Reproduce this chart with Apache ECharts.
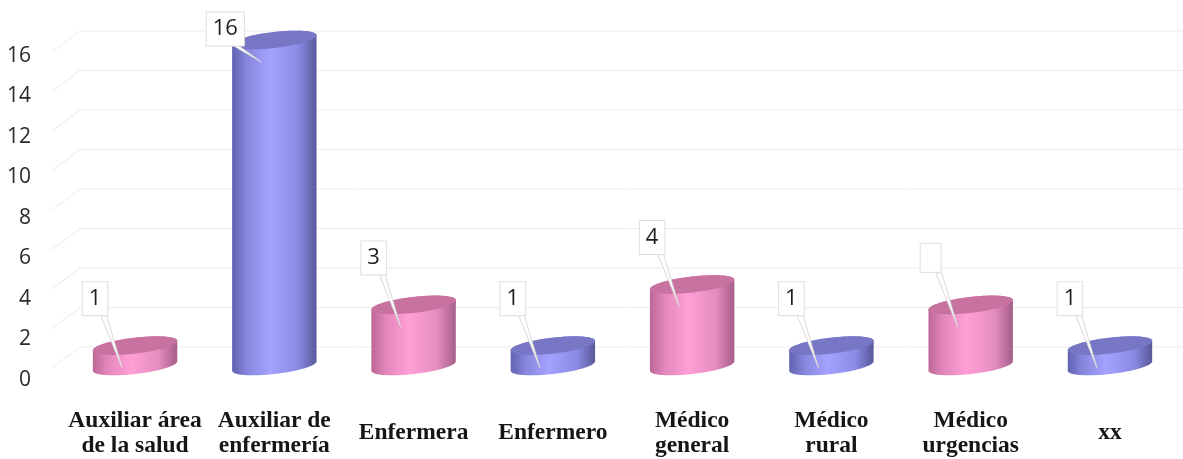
<!DOCTYPE html>
<html>
<head>
<meta charset="utf-8">
<style>
  html, body { margin: 0; padding: 0; background: #ffffff; }
  #chart { width: 1183px; height: 459px; }
</style>
<script src="https://cdn.jsdelivr.net/npm/echarts@6/dist/echarts.min.js"></script>
</head>
<body>
<div id="chart"></div>
<script>
// Staff counts by job title
const categories = [
  'Auxiliar área\nde la salud',
  'Auxiliar de\nenfermería',
  'Enfermera',
  'Enfermero',
  'Médico\ngeneral',
  'Médico\nrural',
  'Médico\nurgencias',
  'xx'
];
const counts = [1, 16, 3, 1, 4, 1, 3, 1];
const countLabels = ['1', '16', '3', '1', '4', '1', '', '1'];
const yTicks = [0, 2, 4, 6, 8, 10, 12, 14, 16];

// Cylinder palettes (alternating pink / blue)
const PINK = {
  body: [
    { offset: 0, color: '#bd6796' },
    { offset: 0.18, color: '#e487bd' },
    { offset: 0.45, color: '#ff9fd6' },
    { offset: 0.78, color: '#e48dc0' },
    { offset: 1, color: '#a55d88' }
  ],
  lid: '#c7729f'
};
const BLUE = {
  body: [
    { offset: 0, color: '#6262b2' },
    { offset: 0.18, color: '#8787dd' },
    { offset: 0.45, color: '#a3a3ff' },
    { offset: 0.78, color: '#8b8be6' },
    { offset: 1, color: '#58589a' }
  ],
  lid: '#7777c6'
};

// Points along a tilted ellipse, parameter t from t0 to t1
function ellipsePts(cx, cy, rx, ry, tilt, t0, t1, n) {
  const pts = [];
  const c = Math.cos(tilt), s = Math.sin(tilt);
  for (let k = 0; k <= n; k++) {
    const t = t0 + (t1 - t0) * k / n;
    const ex = rx * Math.cos(t), ey = ry * Math.sin(t);
    pts.push([cx + ex * c - ey * s, cy + ex * s + ey * c]);
  }
  return pts;
}

function renderCylinder(params, api) {
  const i = api.value(0);
  const v = api.value(1);
  const base = api.coord([i, 0]);
  const top = api.coord([i, v]);
  const rx = api.size([1, 0])[0] * 0.305;
  const ry = 8;
  const tilt = -0.115;
  const pal = i % 2 ? BLUE : PINK;
  const cx = base[0];

  const front = ellipsePts(cx, base[1], rx, ry, tilt, Math.PI, 0, 48);
  const back = ellipsePts(cx, top[1], rx, ry, tilt, 0, -Math.PI, 48);
  const lid = ellipsePts(cx, top[1], rx, ry, tilt, 0, 2 * Math.PI, 96);

  const children = [
    {
      type: 'polygon',
      shape: { points: front.concat(back) },
      style: { fill: new echarts.graphic.LinearGradient(0, 0, 1, 0, pal.body) }
    },
    {
      type: 'polygon',
      shape: { points: lid },
      style: { fill: pal.lid }
    }
  ];

  // callout box with pointer
  const tipX = cx - 13, tipY = top[1] + 22;
  let bx = cx - 40, by = top[1] - 47;
  if (by < 29) { bx -= (29 - by) * 0.25; by = 29; }
  const label = countLabels[i];

  children.push({
    type: 'polygon',
    shape: { points: [[bx + 5, by + 15], [bx + 11, by + 15], [tipX, tipY]] },
    style: { fill: '#ffffff', stroke: '#d9d9d9', lineWidth: 1 }
  });
  if (label === '') {
    children.push({
      type: 'rect',
      shape: { x: bx - 10.5, y: by - 14.5, width: 21, height: 29 },
      style: { fill: '#ffffff', stroke: '#dedede', lineWidth: 1 }
    });
  } else {
    children.push({
      type: 'text',
      style: {
        text: label,
        x: bx,
        y: by,
        align: 'center',
        verticalAlign: 'middle',
        font: '22px "Open Sans", "Noto Sans", sans-serif',
        fill: '#1e1e1e',
        backgroundColor: '#ffffff',
        borderColor: '#dedede',
        borderWidth: 1,
        padding: [4, 6],
        lineHeight: 25
      }
    });
  }
  return { type: 'group', children: children };
}

// Perspective grid: short diagonal on the floor side, then the back-wall line
function renderWall(params, api) {
  const p = api.coord([0, api.value(1)]);
  return {
    type: 'polyline',
    shape: { points: [[p[0] - 28, p[1] + 21], [p[0], p[1]], [api.getWidth(), p[1]]] },
    style: { stroke: '#ebebeb', lineWidth: 1, fill: null }
  };
}

const chart = echarts.init(document.getElementById('chart'), null, { renderer: 'canvas' });

chart.setOption({
  animation: false,
  backgroundColor: '#ffffff',
  grid: [
    { left: 65.4, right: 3.4, top: 40, bottom: 93 },   // cylinders
    { left: 52, right: 3, top: 56, bottom: 79 },       // value labels
    { left: 80, right: 0, top: 31, bottom: 112 }       // back wall
  ],
  xAxis: [
    {
      gridIndex: 0,
      type: 'category',
      data: categories,
      boundaryGap: true,
      axisLine: { show: false },
      axisTick: { show: false },
      axisLabel: {
        interval: 0,
        margin: 67,
        verticalAlign: 'middle',
        fontFamily: '"Liberation Serif", "Times New Roman", serif',
        fontWeight: 'bold',
        fontSize: 23.5,
        lineHeight: 25,
        color: '#161616'
      }
    },
    { gridIndex: 1, type: 'value', min: 0, max: 1, show: false },
    { gridIndex: 2, type: 'value', min: 0, max: 1, show: false }
  ],
  yAxis: [
    { gridIndex: 0, type: 'value', min: 0, max: 16, show: false },
    {
      gridIndex: 1,
      type: 'value',
      min: 0,
      max: 16,
      interval: 2,
      axisLine: { show: false },
      axisTick: { show: false },
      splitLine: { show: false },
      axisLabel: {
        margin: 21,
        fontFamily: '"Open Sans", "Noto Sans", sans-serif',
        fontSize: 21,
        color: '#2a2a2a'
      }
    },
    { gridIndex: 2, type: 'value', min: 0, max: 16, show: false }
  ],
  series: [
    {
      type: 'custom',
      xAxisIndex: 2,
      yAxisIndex: 2,
      renderItem: renderWall,
      data: yTicks.map(v => [0, v]),
      z: 1,
      silent: true
    },
    {
      type: 'scatter',
      xAxisIndex: 1,
      yAxisIndex: 1,
      data: [],
      silent: true
    },
    {
      type: 'custom',
      xAxisIndex: 0,
      yAxisIndex: 0,
      renderItem: renderCylinder,
      data: counts.map((v, i) => [i, v]),
      z: 5
    }
  ]
});
</script>
</body>
</html>
